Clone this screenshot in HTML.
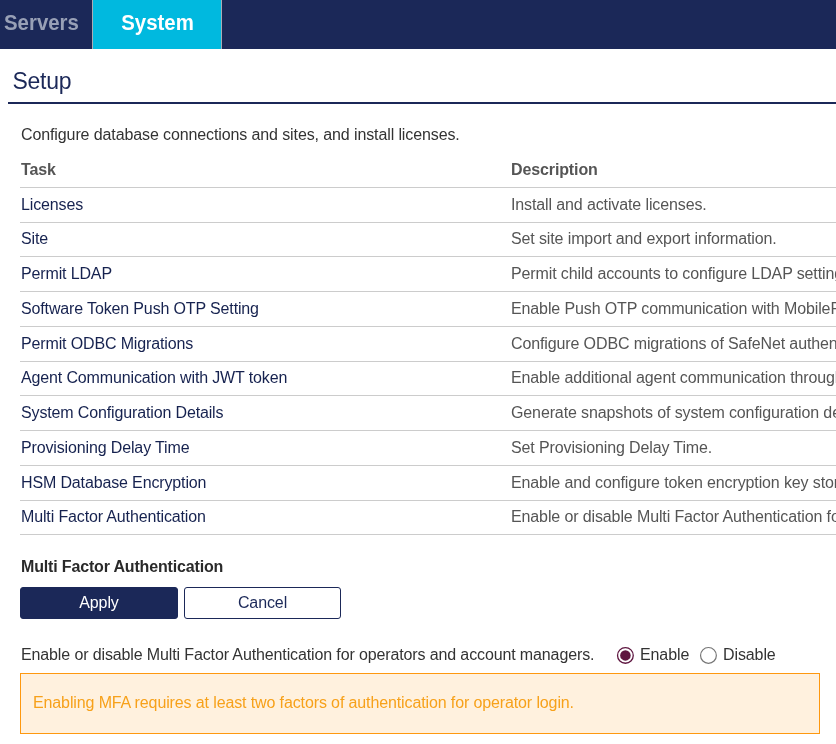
<!DOCTYPE html>
<html>
<head>
<meta charset="utf-8">
<title>Setup</title>
<style>
*{box-sizing:border-box;}
html,body{margin:0;padding:0;}
body{width:836px;height:744px;overflow:hidden;background:#fff;font-family:"Liberation Sans",sans-serif;font-size:16px;color:#333;position:relative;letter-spacing:-0.1px;}
.nav{position:absolute;left:0;top:0;width:836px;height:49px;background:#1b2858;}
.tab{position:absolute;top:0;height:49px;font-weight:bold;font-size:20.4px;line-height:46px;letter-spacing:0;}
.tab span{display:inline-block;transform:scaleY(1.06);transform-origin:50% 70%;}
.tab.servers{left:4px;color:#98a0b6;}
.tab.system{left:92px;width:130px;padding-left:1px;background:#00b9df;color:#fff;text-align:center;border-left:1px solid #a9acb4;border-right:1px solid #a9acb4;}
h1{position:absolute;left:12.4px;top:66px;margin:0;font-weight:normal;font-size:23px;line-height:30px;color:#1b2858;letter-spacing:-0.25px;}
.rule{position:absolute;left:8px;top:102px;width:828px;height:2px;background:#1b2858;}
.intro{position:absolute;left:21px;top:125px;line-height:20px;white-space:nowrap;letter-spacing:-0.11px;}
.row{position:absolute;left:20px;width:816px;border-bottom:1px solid #ccc;white-space:nowrap;overflow:hidden;}
.row span{position:absolute;top:var(--s,0px);}
.row .t{left:1px;color:#16224f;letter-spacing:-0.14px;}
.row .d{left:491px;color:#555;letter-spacing:-0.12px;}
.row.hd span{color:#555;font-weight:bold;}
.h2{position:absolute;left:21px;top:557px;font-weight:bold;line-height:20px;color:#2a2a2a;white-space:nowrap;letter-spacing:-0.16px;}
.btn{position:absolute;top:587px;height:32px;width:158px;border:1px solid #1b2858;border-radius:3px;line-height:30px;text-align:center;font-size:16px;}
.btn.apply{left:20px;background:#1b2858;color:#fff;}
.btn.cancel{left:184px;width:157px;background:#fff;color:#1b2858;}
.q{position:absolute;left:21px;top:645px;line-height:20px;white-space:nowrap;letter-spacing:-0.125px;}
.radio{position:absolute;top:646px;width:19px;height:19px;}
.rl{position:absolute;top:645px;line-height:20px;}
.alert{position:absolute;left:20px;top:673px;width:800px;height:61px;background:#fff1de;border:1px solid #fe980f;color:#f7a11a;padding-left:12px;line-height:57px;white-space:nowrap;letter-spacing:-0.12px;}
</style>
</head>
<body>
<div class="nav">
  <div class="tab servers"><span>Servers</span></div>
  <div class="tab system"><span>System</span></div>
</div>
<h1>Setup</h1>
<div class="rule"></div>
<div class="intro">Configure database connections and sites, and install licenses.</div>
<div class="row hd" style="top:152px;height:36px;line-height:34px;--s:1px"><span class="t">Task</span><span class="d">Description</span></div>
<div class="row" style="top:188px;height:35px;line-height:34px"><span class="t">Licenses</span><span class="d">Install and activate licenses.</span></div>
<div class="row" style="top:223px;height:34px;line-height:34px;--s:-1px"><span class="t">Site</span><span class="d">Set site import and export information.</span></div>
<div class="row" style="top:257px;height:35px;line-height:34px"><span class="t">Permit LDAP</span><span class="d">Permit child accounts to configure LDAP settings.</span></div>
<div class="row" style="top:292px;height:35px;line-height:34px"><span class="t">Software Token Push OTP Setting</span><span class="d">Enable Push OTP communication with MobilePASS+.</span></div>
<div class="row" style="top:327px;height:35px;line-height:34px"><span class="t">Permit ODBC Migrations</span><span class="d">Configure ODBC migrations of SafeNet authentication servers.</span></div>
<div class="row" style="top:362px;height:34px;line-height:34px;--s:-1px"><span class="t">Agent Communication with JWT token</span><span class="d">Enable additional agent communication through JWT token.</span></div>
<div class="row" style="top:396px;height:35px;line-height:34px"><span class="t">System Configuration Details</span><span class="d">Generate snapshots of system configuration details.</span></div>
<div class="row" style="top:431px;height:35px;line-height:34px"><span class="t">Provisioning Delay Time</span><span class="d">Set Provisioning Delay Time.</span></div>
<div class="row" style="top:466px;height:35px;line-height:34px"><span class="t">HSM Database Encryption</span><span class="d">Enable and configure token encryption key storage.</span></div>
<div class="row" style="top:501px;height:34px;line-height:34px;--s:-1px"><span class="t">Multi Factor Authentication</span><span class="d">Enable or disable Multi Factor Authentication for operators and account managers.</span></div>
<div class="h2">Multi Factor Authentication</div>
<div class="btn apply">Apply</div>
<div class="btn cancel">Cancel</div>
<div class="q">Enable or disable Multi Factor Authentication for operators and account managers.</div>
<svg class="radio" style="left:616px" viewBox="0 0 19 19"><circle cx="9.4" cy="9.4" r="7.85" fill="#fff" stroke="#5e1640" stroke-width="1.3"/><circle cx="9.4" cy="9.4" r="5.25" fill="#5e1640"/></svg>
<div class="rl" style="left:640px">Enable</div>
<svg class="radio" style="left:699px" viewBox="0 0 19 19"><circle cx="9.45" cy="9.4" r="7.9" fill="#fff" stroke="#767676" stroke-width="1.2"/></svg>
<div class="rl" style="left:723px">Disable</div>
<div class="alert">Enabling MFA requires at least two factors of authentication for operator login.</div>
</body>
</html>
